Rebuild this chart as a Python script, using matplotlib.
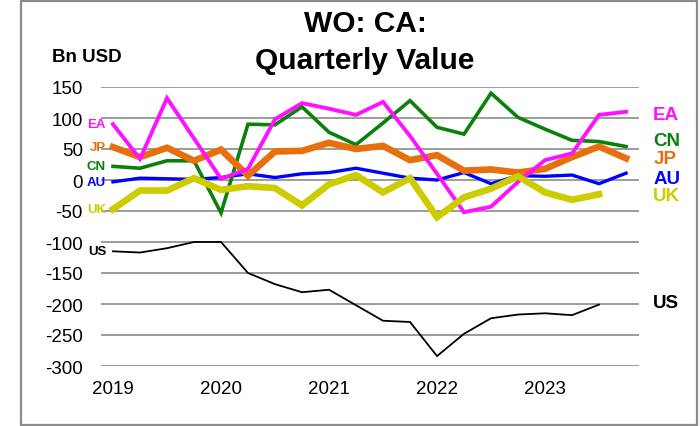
import matplotlib.pyplot as plt
from matplotlib.patches import Rectangle

plt.rcParams['font.family'] = ['Liberation Sans', 'DejaVu Sans']
plt.rcParams['axes.unicode_minus'] = False

# ============ data (Bn USD, 2019Q1 .. 2023Q4) ============
quarters = ['2019Q1', '2019Q2', '2019Q3', '2019Q4', '2020Q1', '2020Q2', '2020Q3', '2020Q4',
            '2021Q1', '2021Q2', '2021Q3', '2021Q4', '2022Q1', '2022Q2', '2022Q3', '2022Q4',
            '2023Q1', '2023Q2', '2023Q3', '2023Q4']
year_labels = ['2019', '2020', '2021', '2022', '2023']

us = [-115, -117, -110, -100, -100, -150, -168, -181, -177, -202, -227, -229,
      -284, -248, -223, -217, -215, -218, -201]
au = [-3, 3, 2, 1, 4, 10, 4, 10, 12, 19, 11, 3, 0, 12, -6, 7, 6, 8, -6, 11]
cn = [22, 19, 31, 31, -53, 90, 89, 118, 77, 57, 92, 128, 85, 74, 140, 101, 82, 64, 62, 54]
jp = [53, 37, 52, 31, 49, 7, 46, 47, 60, 50, 55, 32, 40, 15, 17, 12, 18, 37, 54, 35]
ea = [90, 34, 132, 67, 2, 18, 98, 124, 115, 105, 126, 71, 10, -52, -43, -3, 32, 43, 105, 110]
uk = [-47, -17, -17, 3, -16, -10, -13, -41, -7, 8, -20, 3, -60, -28, -14, 6, -20, -32, -23]

# ============ styles ============
series = [
    # name, values, colour, line width, right label y
    ('US', us, 'black', 1.3, -198),
    ('AU', au, '#0000FF', 2.4, 2),
    ('CN', cn, '#0A820A', 2.6, 63),
    ('JP', jp, '#E8700C', 4.8, 34),
    ('EA', ea, '#FF10FF', 2.8, 105),
    ('UK', uk, '#CCCC00', 4.8, -25),
]

fig = plt.figure(figsize=(7, 4.27), dpi=100)
ax = fig.add_axes([101 / 700, 1 - 367 / 427, 538 / 700, 279 / 427])

for name, vals, color, lw, _ in series:
    xs = list(range(len(vals)))
    ax.plot(xs, vals, color=color, lw=lw, solid_joinstyle='miter', zorder=3)
    # small label at the start of each line
    ax.annotate(name, xy=(0, vals[0]), xytext=(-5, 0), textcoords='offset points',
                ha='right', va='center', fontsize=9.5, fontweight='bold', color=color)

# labels on the right side
for name, vals, color, lw, ylab in series:
    ax.text(19.5 + 13.7 / 27, ylab, name, ha='left', va='center',
            fontsize=13.5, fontweight='bold', color=color, clip_on=False)

ax.set_xlim(-0.444, 19.48)
ax.set_ylim(-300, 150)
ax.set_yticks(range(-300, 151, 50))
ax.set_xticks(range(0, len(quarters), 4))
ax.set_xticklabels(year_labels)
ax.tick_params(axis='both', length=0, labelsize=13.5)
ax.tick_params(axis='y', pad=13)
ax.tick_params(axis='x', pad=10)
ax.grid(axis='y', color='#9C9C9C', lw=1.4, zorder=0)
for s in ax.spines.values():
    s.set_visible(False)

# titles
fig.text(365 / 700, 1 - 24 / 427, 'WO: CA:', ha='center', va='center',
         fontsize=21.5, fontweight='bold')
fig.text(365 / 700, 1 - 61 / 427, 'Quarterly Value', ha='center', va='center',
         fontsize=21.5, fontweight='bold')
fig.text(52 / 700, 1 - 58 / 427, 'Bn USD', ha='left', va='center',
         fontsize=13.5, fontweight='bold')

# frame round the figure
fig.patches.append(Rectangle((20.5 / 700, 1.5 / 427), 676 / 700, 424 / 427,
                             transform=fig.transFigure, fill=False,
                             edgecolor='#8C8C8C', lw=1.6))

fig.savefig('out.png', dpi=100)
